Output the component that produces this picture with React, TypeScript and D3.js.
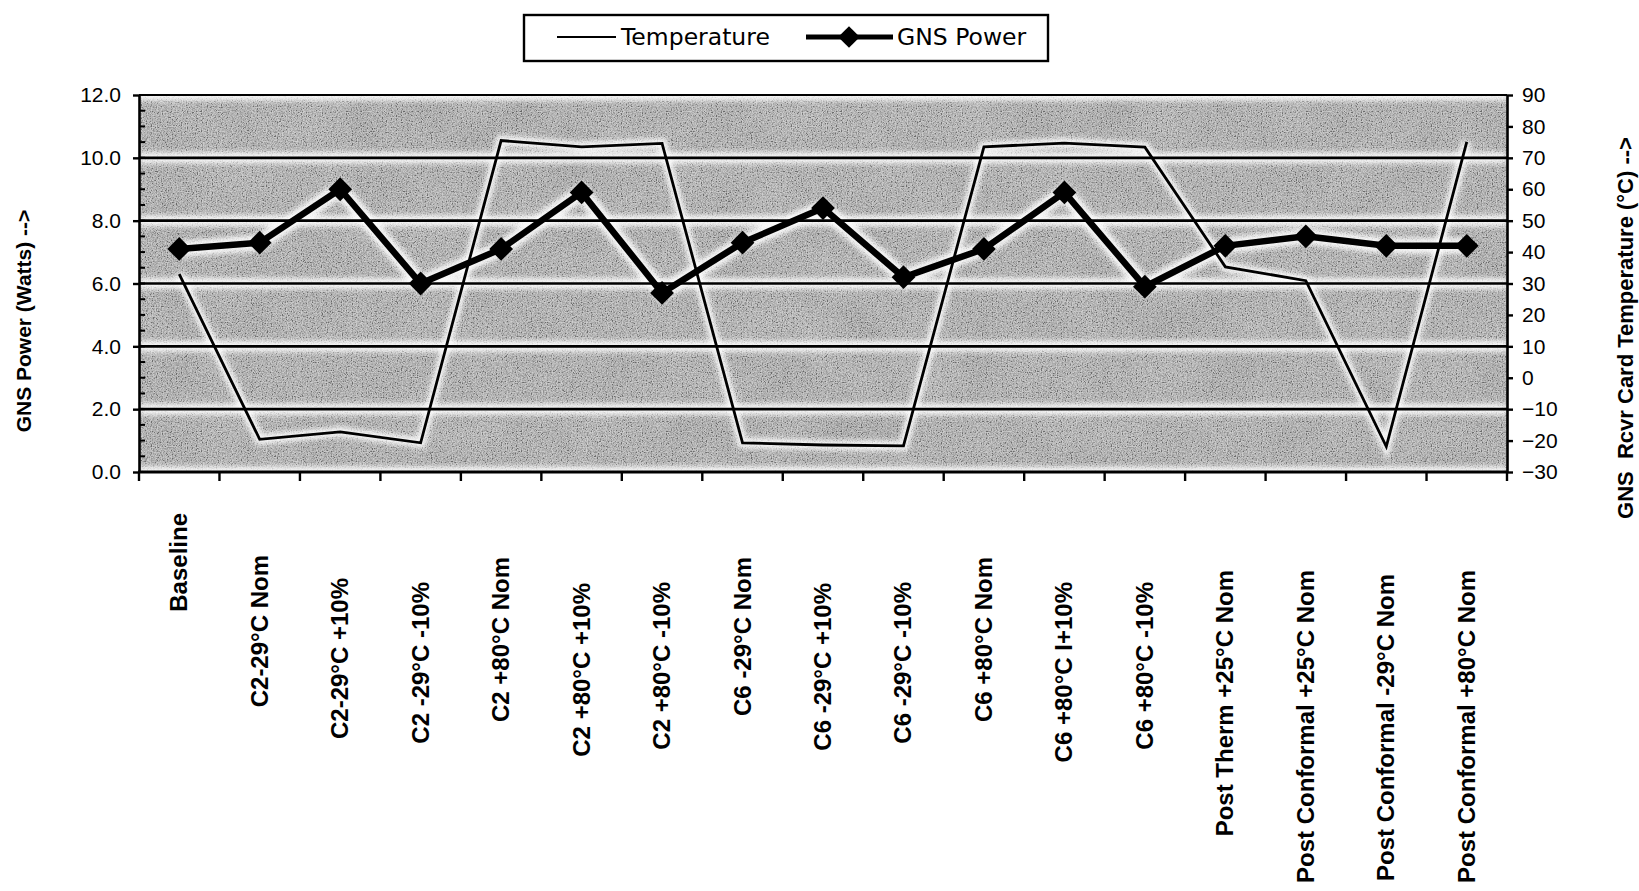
import React, { useEffect, useRef } from "react";
import * as d3 from "d3";

const categories: string[] = [
  "Baseline",
  "C2-29°C Nom",
  "C2-29°C +10%",
  "C2 -29°C -10%",
  "C2 +80°C Nom",
  "C2 +80°C +10%",
  "C2 +80°C -10%",
  "C6 -29°C Nom",
  "C6 -29°C +10%",
  "C6 -29°C -10%",
  "C6 +80°C Nom",
  "C6 +80°C I+10%",
  "C6 +80°C -10%",
  "Post Therm +25°C Nom",
  "Post Conformal +25°C Nom",
  "Post Conformal -29°C Nom",
  "Post Conformal +80°C Nom",
];

const gnsPower: number[] = [7.1, 7.3, 9.0, 6.0, 7.1, 8.9, 5.7, 7.3, 8.4, 6.2, 7.1, 8.9, 5.9, 7.2, 7.5, 7.2, 7.2];
const temperature: number[] = [33, -19.6, -17.2, -20.7, 75.5, 73.5, 74.6, -20.7, -21.4, -21.7, 73.5, 74.7, 73.4, 35.3, 30.9, -21.9, 75.1];

const leftTicks: number[] = [0, 2, 4, 6, 8, 10, 12];
const rightTicks: number[] = [-30, -20, -10, 0, 10, 20, 30, 40, 50, 60, 70, 80, 90];
const gridValues: number[] = [2, 4, 6, 8, 10];

// layout: gap between x axis and top of each rotated category label
const labelGap: number[] = [41, 83, 106, 110, 85, 111, 110, 85, 111, 110, 85, 110, 110, 98, 98, 102, 98];

const W = 1639;
const H = 891;
const X0 = 139;
const X1 = 1507;
const Y0 = 95;
const Y1 = 472;
const FONT = "'Liberation Sans', Arial, sans-serif";
const WIDE = "'DejaVu Sans', sans-serif";

export default function App() {
  const ref = useRef<SVGSVGElement>(null);

  useEffect(() => {
    const svg = d3.select(ref.current);
    svg.selectAll("*").remove();

    const x = d3.scaleBand<string>().domain(categories).range([X0, X1]).padding(0);
    const cx = (i: number) => (x(categories[i]) as number) + x.bandwidth() / 2;
    const yL = d3.scaleLinear().domain([0, 12]).range([Y1, Y0]);
    const yR = d3.scaleLinear().domain([-30, 90]).range([Y1, Y0]);

    const defs = svg.append("defs");
    const f = defs.append("filter").attr("id", "noise").attr("x", 0).attr("y", 0).attr("width", "100%").attr("height", "100%");
    f.append("feTurbulence").attr("type", "fractalNoise").attr("baseFrequency", "0.8").attr("numOctaves", 2).attr("seed", 7).attr("result", "t");
    f.append("feColorMatrix").attr("in", "t").attr("type", "saturate").attr("values", "0").attr("result", "g");
    const ct = f.append("feComponentTransfer").attr("in", "g");
    ct.append("feFuncR").attr("type", "linear").attr("slope", 3).attr("intercept", -1);
    ct.append("feFuncG").attr("type", "linear").attr("slope", 3).attr("intercept", -1);
    ct.append("feFuncB").attr("type", "linear").attr("slope", 3).attr("intercept", -1);
    ct.append("feFuncA").attr("type", "table").attr("tableValues", "1 1");

    const f2 = defs.append("filter").attr("id", "blotch").attr("x", 0).attr("y", 0).attr("width", "100%").attr("height", "100%");
    f2.append("feTurbulence").attr("type", "fractalNoise").attr("baseFrequency", "0.02").attr("numOctaves", 2).attr("seed", 3).attr("result", "t");
    f2.append("feColorMatrix").attr("in", "t").attr("type", "saturate").attr("values", "0").attr("result", "g");
    const ct2 = f2.append("feComponentTransfer").attr("in", "g");
    ct2.append("feFuncA").attr("type", "table").attr("tableValues", "1 1");

    const blur = defs.append("filter").attr("id", "halo").attr("x", "-5%").attr("y", "-50%").attr("width", "110%").attr("height", "200%");
    blur.append("feGaussianBlur").attr("stdDeviation", 2.5);

    svg.append("rect").attr("width", W).attr("height", H).attr("fill", "#ffffff");

    // plot background
    svg.append("rect").attr("x", X0).attr("y", Y0).attr("width", X1 - X0).attr("height", Y1 - Y0).attr("fill", "#adadad");
    svg.append("rect").attr("x", X0).attr("y", Y0).attr("width", X1 - X0).attr("height", Y1 - Y0)
      .attr("filter", "url(#blotch)").attr("opacity", 0.18);
    svg.append("rect").attr("x", X0).attr("y", Y0).attr("width", X1 - X0).attr("height", Y1 - Y0)
      .attr("filter", "url(#noise)").attr("opacity", 0.38);

    const halo = svg.append("g").attr("filter", "url(#halo)").attr("fill", "none").attr("stroke", "#ffffff").attr("stroke-opacity", 0.85);
    gridValues.concat([12, 0]).forEach((v) => {
      halo.append("line").attr("x1", X0).attr("x2", X1).attr("y1", yL(v)).attr("y2", yL(v)).attr("stroke-width", 11);
    });

    const lineT = d3.line<number>().x((_, i) => cx(i)).y((d) => yR(d));
    const lineP = d3.line<number>().x((_, i) => cx(i)).y((d) => yL(d));
    halo.append("path").attr("d", lineT(temperature) as string).attr("stroke-width", 10);
    halo.append("path").attr("d", lineP(gnsPower) as string).attr("stroke-width", 16);

    // gridlines
    const grid = svg.append("g");
    gridValues.forEach((v) => {
      grid.append("line").attr("x1", X0).attr("x2", X1).attr("y1", yL(v)).attr("y2", yL(v))
        .attr("stroke", "#000").attr("stroke-width", 2.6);
    });
    grid.append("line").attr("x1", X0).attr("x2", X1).attr("y1", Y0).attr("y2", Y0).attr("stroke", "#000").attr("stroke-width", 2.2);

    // left axis
    const minor = d3.range(0, 12.01, 0.5);
    const gl = svg.append("g");
    minor.forEach((v) => {
      gl.append("line").attr("x1", X0).attr("x2", X0 + 6).attr("y1", yL(v)).attr("y2", yL(v)).attr("stroke", "#000").attr("stroke-width", 2);
    });
    const axL = d3.axisLeft(yL).tickValues(leftTicks).tickFormat(d3.format(".1f")).tickSizeInner(6).tickSizeOuter(0).tickPadding(12);
    const gAxL = svg.append("g").attr("transform", `translate(${X0},0)`).call(axL);
    gAxL.select(".domain").attr("stroke-width", 2.6).attr("stroke", "#000");
    gAxL.selectAll(".tick line").attr("stroke-width", 2.4);
    gAxL.selectAll(".tick text").attr("font-family", FONT).attr("font-size", 21).attr("fill", "#000");

    // right axis
    const axR = d3.axisRight(yR).tickValues(rightTicks).tickFormat(d3.format("d")).tickSizeInner(6).tickSizeOuter(0).tickPadding(9);
    const gAxR = svg.append("g").attr("transform", `translate(${X1},0)`).call(axR);
    gAxR.select(".domain").attr("stroke-width", 2.6).attr("stroke", "#000");
    gAxR.selectAll(".tick line").attr("stroke-width", 2.4);
    gAxR.selectAll(".tick text").attr("font-family", FONT).attr("font-size", 21).attr("fill", "#000");

    // bottom axis
    const gb = svg.append("g");
    gb.append("line").attr("x1", X0 - 1).attr("x2", X1 + 1).attr("y1", Y1).attr("y2", Y1).attr("stroke", "#000").attr("stroke-width", 2.8);
    d3.range(categories.length + 1).forEach((i) => {
      const xx = X0 + i * x.bandwidth();
      gb.append("line").attr("x1", xx).attr("x2", xx).attr("y1", Y1).attr("y2", Y1 + 9).attr("stroke", "#000").attr("stroke-width", 2.4);
    });
    categories.forEach((c, i) => {
      gb.append("text")
        .attr("transform", `translate(${cx(i) + 8},${Y1 + labelGap[i]}) rotate(-90)`)
        .attr("text-anchor", "end")
        .attr("font-family", FONT)
        .attr("font-weight", "bold")
        .attr("font-size", 24)
        .attr("fill", "#000")
        .text(c);
    });

    // temperature line
    svg.append("path").attr("d", lineT(temperature) as string).attr("fill", "none").attr("stroke", "#000").attr("stroke-width", 2.8).attr("stroke-linejoin", "miter");

    // power line
    svg.append("path").attr("d", lineP(gnsPower) as string).attr("fill", "none").attr("stroke", "#000").attr("stroke-width", 6.5).attr("stroke-linejoin", "miter");
    const diamond = d3.symbol().type(d3.symbolDiamond2).size(360);
    svg.append("g").selectAll("path").data(gnsPower).join("path")
      .attr("transform", (d, i) => `translate(${cx(i)},${yL(d)})`)
      .attr("d", diamond() as string)
      .attr("fill", "#000");

    // axis titles
    svg.append("text")
      .attr("transform", `translate(31,321) rotate(-90)`)
      .attr("text-anchor", "middle")
      .attr("font-family", FONT).attr("font-weight", "bold").attr("font-size", 21).attr("fill", "#000")
      .text("GNS Power (Watts) -->");
    svg.append("text")
      .attr("transform", `translate(1633,328) rotate(-90)`)
      .attr("text-anchor", "middle")
      .attr("font-family", FONT).attr("font-weight", "bold").attr("font-size", 22).attr("fill", "#000")
      .style("white-space", "pre")
      .text("GNS  Rcvr Card Temperature (°C) -->");

    // legend
    const lg = svg.append("g");
    lg.append("rect").attr("x", 524).attr("y", 15).attr("width", 524).attr("height", 46).attr("fill", "#fff").attr("stroke", "#000").attr("stroke-width", 2.4);
    lg.append("line").attr("x1", 557).attr("x2", 616).attr("y1", 37).attr("y2", 37).attr("stroke", "#000").attr("stroke-width", 2);
    lg.append("text").attr("x", 621).attr("y", 37).attr("dy", "0.36em").attr("font-family", WIDE).attr("font-size", 23.5).attr("fill", "#000").text("Temperature");
    lg.append("line").attr("x1", 806).attr("x2", 893).attr("y1", 37).attr("y2", 37).attr("stroke", "#000").attr("stroke-width", 5);
    lg.append("path").attr("transform", "translate(849,37)").attr("d", d3.symbol().type(d3.symbolDiamond2).size(300)() as string).attr("fill", "#000");
    lg.append("text").attr("x", 897).attr("y", 37).attr("dy", "0.36em").attr("font-family", WIDE).attr("font-size", 23.5).attr("fill", "#000").text("GNS Power");
  }, []);

  return (
    <svg
      ref={ref}
      width={W}
      height={H}
      style={{ position: "absolute", left: 0, top: 0, display: "block" }}
    />
  );
}
